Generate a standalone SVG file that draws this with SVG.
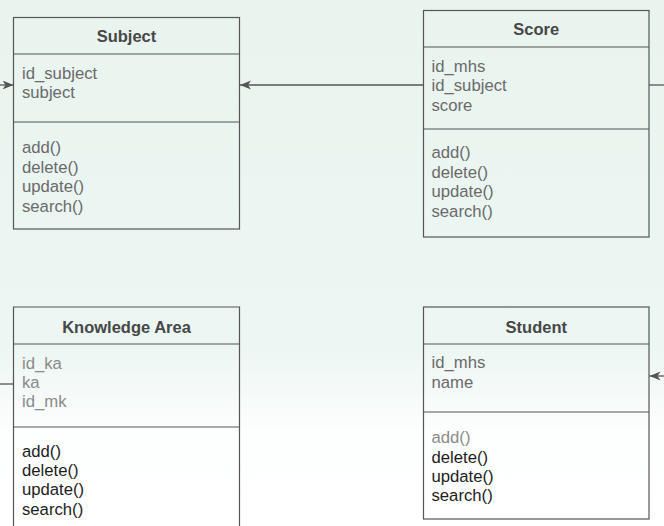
<svg xmlns="http://www.w3.org/2000/svg" width="664" height="526" viewBox="0 0 664 526">
  <style>
    .box { fill: none; stroke: #555; stroke-width: 1.2; }
    .div { stroke: #555; stroke-width: 1.2; }
    .title { font-family: "Liberation Sans", Arial, sans-serif; font-size: 16.5px; font-weight: bold; fill: #474747; text-anchor: middle; }
    .txt { font-family: "Liberation Sans", Arial, sans-serif; font-size: 16.7px; fill: #6a6a6a; }
    .light { fill: #8a8a8a; }
    .dark { fill: #1c1c1c; }
    .conn { stroke: #555; stroke-width: 1.3; fill: none; }
  </style>
  <defs>
    <linearGradient id="bg" x1="0" y1="0" x2="0" y2="1">
      <stop offset="0" stop-color="#e9f4ef"/>
      <stop offset="0.66" stop-color="#ecf6f2"/>
      <stop offset="0.82" stop-color="#fdfefe"/>
      <stop offset="1" stop-color="#ffffff"/>
    </linearGradient>
    <marker id="arrow" markerUnits="userSpaceOnUse" markerWidth="12" markerHeight="10" refX="11" refY="4.5" orient="auto">
      <path d="M0,0 L11,4.5 L0,9 L3,4.5 z" fill="#555"/>
    </marker>
  </defs>

  <rect x="0" y="0" width="664" height="526" fill="url(#bg)"/>

  <!-- associations -->
  <g id="connectors">
    <line class="conn" x1="423.5" y1="85" x2="240" y2="85" marker-end="url(#arrow)"/>
    <line class="conn" x1="0" y1="85" x2="13.5" y2="85" marker-end="url(#arrow)"/>
    <line class="conn" x1="649" y1="85" x2="664" y2="85"/>
    <line class="conn" x1="0" y1="384" x2="13.5" y2="384"/>
    <line class="conn" x1="664" y1="376" x2="649.5" y2="376" marker-end="url(#arrow)"/>
  </g>

  <!-- Subject -->
  <g id="subject">
    <rect class="box" x="13.5" y="17.5" width="226" height="211.5"/>
    <line class="div" x1="13.5" y1="54" x2="239.5" y2="54"/>
    <line class="div" x1="13.5" y1="122" x2="239.5" y2="122"/>
    <text class="title" x="126.5" y="42">Subject</text>
    <text class="txt" x="22" y="79">id_subject</text>
    <text class="txt" x="22" y="98">subject</text>
    <text class="txt" x="22" y="153.3">add()</text>
    <text class="txt" x="22" y="172.7">delete()</text>
    <text class="txt" x="22" y="192">update()</text>
    <text class="txt" x="22" y="211.5">search()</text>
  </g>

  <!-- Score -->
  <g id="score">
    <rect class="box" x="423.5" y="10.5" width="225.5" height="226.5"/>
    <line class="div" x1="423.5" y1="47" x2="649" y2="47"/>
    <line class="div" x1="423.5" y1="129" x2="649" y2="129"/>
    <text class="title" x="536.3" y="35">Score</text>
    <text class="txt" x="431.5" y="71.7">id_mhs</text>
    <text class="txt" x="431.5" y="91.3">id_subject</text>
    <text class="txt" x="431.5" y="110.8">score</text>
    <text class="txt" x="431.5" y="158.3">add()</text>
    <text class="txt" x="431.5" y="177.8">delete()</text>
    <text class="txt" x="431.5" y="197.2">update()</text>
    <text class="txt" x="431.5" y="216.7">search()</text>
  </g>

  <!-- Knowledge Area -->
  <g id="knowledge-area">
    <path class="box" d="M13.5,530 V307 H239.5 V530"/>
    <line class="div" x1="13.5" y1="344" x2="239.5" y2="344"/>
    <line class="div" x1="13.5" y1="427" x2="239.5" y2="427"/>
    <text class="title" x="126.5" y="332.7">Knowledge Area</text>
    <text class="txt light" x="22" y="369.3">id_ka</text>
    <text class="txt light" x="22" y="388.3">ka</text>
    <text class="txt light" x="22" y="407">id_mk</text>
    <text class="txt dark" x="22" y="456.7">add()</text>
    <text class="txt dark" x="22" y="476">delete()</text>
    <text class="txt dark" x="22" y="495.3">update()</text>
    <text class="txt dark" x="22" y="514.5">search()</text>
  </g>

  <!-- Student -->
  <g id="student">
    <rect class="box" x="423.5" y="307" width="225.5" height="212"/>
    <line class="div" x1="423.5" y1="344" x2="649" y2="344"/>
    <line class="div" x1="423.5" y1="412" x2="649" y2="412"/>
    <text class="title" x="536.3" y="333">Student</text>
    <text class="txt" x="431.5" y="368.3">id_mhs</text>
    <text class="txt" x="431.5" y="387.7">name</text>
    <text class="txt light" x="431.5" y="443.3">add()</text>
    <text class="txt dark" x="431.5" y="462.7">delete()</text>
    <text class="txt dark" x="431.5" y="482">update()</text>
    <text class="txt dark" x="431.5" y="501.3">search()</text>
  </g>
</svg>
